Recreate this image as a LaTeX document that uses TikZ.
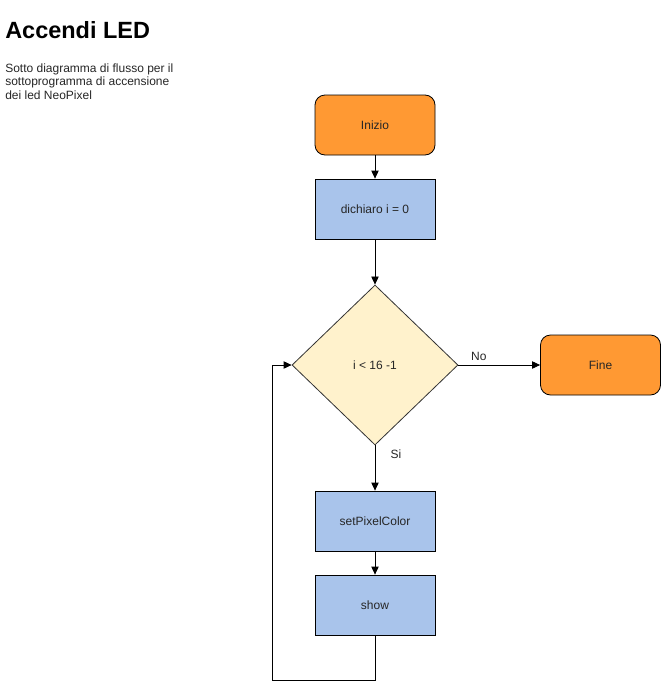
\documentclass[tikz,border=0pt]{standalone}
\usepackage{fontspec}
\setmainfont{Liberation Sans}
\usetikzlibrary{shapes.geometric,arrows.meta}
\definecolor{orangefill}{HTML}{FF9933}
\definecolor{bluefill}{HTML}{A9C4EB}
\definecolor{yellowfill}{HTML}{FFF2CC}
\begin{document}
\begin{tikzpicture}[x=0.75pt,y=-0.75pt,
  every node/.style={font=\fontsize{9}{11}\selectfont, text=black!85},
  termbox/.style={draw=black, fill=orangefill, rounded corners=7.5pt, minimum width=90pt, minimum height=45pt, inner sep=0pt, line width=0.6pt},
  procbox/.style={draw=black, fill=bluefill, minimum width=90pt, minimum height=45pt, inner sep=0pt, line width=0.6pt},
  decbox/.style={draw=black!80, fill=yellowfill, diamond, minimum width=124.5pt, minimum height=120pt, inner sep=0pt, line width=0.6pt},
  conn/.style={draw=black, line width=0.6pt, -{Triangle[length=6pt,width=5.5pt]}},
  lbl/.style={font=\fontsize{9}{11}\selectfont}]
\useasboundingbox (0,0) rectangle (661,689);
\node[anchor=base west, font=\bfseries\fontsize{17.6}{21}\selectfont, text=black, inner sep=0pt] (title) at (5,38) {Accendi LED};
\node[anchor=north west, align=left, font=\fontsize{9}{10.1}\selectfont, text=black!85, inner sep=0pt] (desc) at (5,63.5) {Sotto diagramma di flusso per il\\sottoprogramma di accensione\\dei led NeoPixel};
\node[termbox] (start) at (375,125) {Inizio};
\node[procbox] (decl) at (375,209) {dichiaro i = 0};
\node[decbox] (cond) at (375,365) {i < 16 -1};
\node[termbox] (fine) at (600.5,365) {Fine};
\node[procbox] (setp) at (375,521) {setPixelColor};
\node[procbox] (show) at (375,605) {show};
\coordinate (c1) at (375,680);
\coordinate (c2) at (272,680);
\coordinate (c3) at (272,365);
\draw[conn] (start) -- (decl);
\draw[conn] (decl) -- (cond);
\draw[conn] (cond) -- node[lbl, above, pos=0.25] {No} (fine);
\draw[conn] (cond) -- node[lbl, right, pos=0.2, xshift=8pt] {Si} (setp);
\draw[conn] (setp) -- (show);
\draw[conn] (show.south) -- (c1) -- (c2) -- (c3) -- (cond.west);
\end{tikzpicture}
\end{document}
